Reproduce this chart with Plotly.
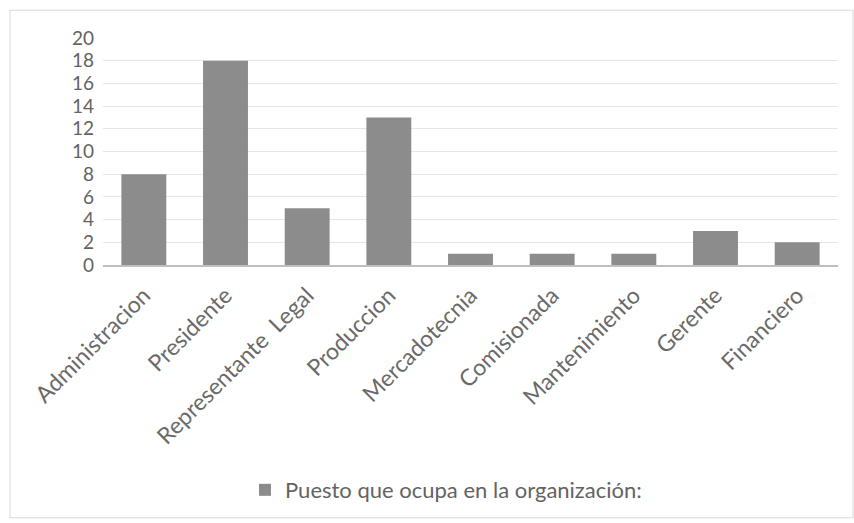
import plotly.graph_objects as go

categories = ["Administracion", "Presidente", "Representante  Legal", "Produccion",
              "Mercadotecnia", "Comisionada", "Mantenimiento", "Gerente", "Financiero"]
values = [8, 18, 5, 13, 1, 1, 1, 3, 2]
series_name = "Puesto que ocupa en la organización:"
y_ticks = [0, 2, 4, 6, 8, 10, 12, 14, 16, 18, 20]

W, H = 854, 523
L, R, T, B = 103, 16, 38, 256
pw, ph = W - L - R, H - T - B

def px_x(x):
    return (x - L) / pw

def px_y(y):
    return (H - B - y) / ph

fig = go.Figure()
fig.add_trace(go.Bar(
    x=categories, y=values, name=series_name,
    marker=dict(color="#8c8c8c", line=dict(width=0)),
    showlegend=True,
))

fig.update_layout(
    width=W, height=H,
    margin=dict(l=L, r=R, t=T, b=B),
    paper_bgcolor="white", plot_bgcolor="white",
    font=dict(family="Lato", color="#636363"),
    bargap=0.45,
    showlegend=True,
    legend=dict(orientation="h", x=px_x(446), xanchor="center",
                y=px_y(494), yanchor="middle",
                font=dict(size=22, color="#636363"),
                itemsizing="constant", itemwidth=30),
    xaxis=dict(tickangle=-45, tickfont=dict(size=23, color="#6a6a6a"),
               showline=True, linecolor="#bfbfbf", linewidth=2,
               showgrid=False, ticks="", ticklen=0, ticklabelstandoff=6),
    yaxis=dict(range=[0, 20], tickvals=y_ticks, tickfont=dict(size=19, color="#636363"),
               showgrid=True, gridcolor="#e6e6e6", gridwidth=1,
               showline=False, zeroline=False, ticks="", ticklabelstandoff=8),
    shapes=[dict(type="rect", xref="paper", yref="paper",
                 x0=px_x(10), x1=px_x(853), y0=px_y(522), y1=px_y(10),
                 line=dict(color="#d9d9d9", width=1), fillcolor="rgba(0,0,0,0)",
                 layer="below")],
)

fig.write_html("out.html")
